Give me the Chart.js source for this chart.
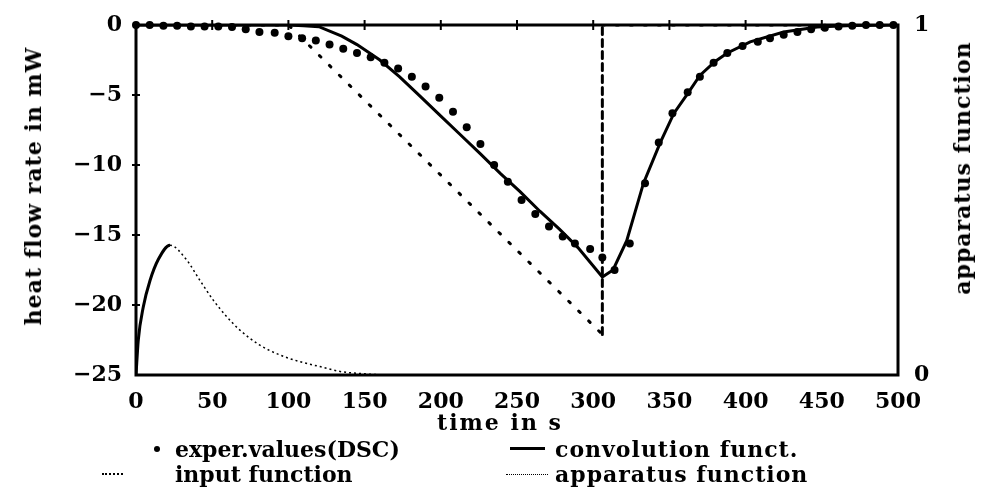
<!DOCTYPE html>
<html>
<head>
<meta charset="utf-8">
<script src="https://cdn.jsdelivr.net/npm/chart.js@4.4.1/dist/chart.umd.min.js"></script>
<style>
  html, body { margin: 0; padding: 0; background: #fff; }
  #wrap { position: relative; width: 987px; height: 498px; overflow: hidden; }
  #chart { position: absolute; left: 0; top: 0; }
  .txt { position: absolute; font-family: "DejaVu Serif", serif; font-weight: bold; font-size: 22px; color: #000; white-space: nowrap; line-height: 1; }
  .vtitle { transform: translate(-50%, -50%) rotate(-90deg); }
  .mk { position: absolute; }
</style>
</head>
<body>
<div id="wrap">
  <canvas id="chart" width="987" height="498"></canvas>
  <div class="txt vtitle" style="left:33px; top:186px; letter-spacing:1px;">heat flow rate in mW</div>
  <div class="txt vtitle" style="left:962px; top:168px; letter-spacing:1px;">apparatus function</div>
  <div class="txt" style="left:500px; top:422px; transform:translate(-50%,-50%); letter-spacing:2px;">time in s</div>

  <div class="mk" style="left:154px; top:446px; width:6px; height:6px; border-radius:50%; background:#000;"></div>
  <div class="txt" style="left:175px; top:449px; transform:translateY(-50%);">exper.values(DSC)</div>
  <div class="mk" style="left:510px; top:447px; width:35px; height:0; border-top:3px solid #000;"></div>
  <div class="txt" style="left:555px; top:449px; transform:translateY(-50%); letter-spacing:1px;">convolution funct.</div>

  <div class="mk" style="left:102px; top:473px; width:21px; height:0; border-top:2px dotted #000;"></div>
  <div class="txt" style="left:175px; top:474px; transform:translateY(-50%);">input function</div>
  <div class="mk" style="left:506px; top:474px; width:42px; height:0; border-top:1px dotted #000;"></div>
  <div class="txt" style="left:555px; top:474px; transform:translateY(-50%); letter-spacing:1px;">apparatus function</div>
</div>
<script>
// experimental DSC values (heat flow rate, mW)
const expTimes = [0, 9, 18, 27, 36, 45, 54, 63, 72, 81, 91, 100, 109, 118, 127, 136, 145, 154, 163, 172,
  181, 190, 199, 208, 217, 226, 235, 244, 253, 262, 271, 280, 288, 298, 306, 314, 324, 334, 343, 352,
  362, 370, 379, 388, 398, 408, 416, 425, 434, 443, 452, 461, 470, 479, 488, 497];
const expValues = [0, 0, -0.05, -0.05, -0.1, -0.1, -0.1, -0.15, -0.3, -0.5, -0.55, -0.8, -0.95, -1.1, -1.4, -1.7, -2.0, -2.3, -2.7, -3.1,
  -3.7, -4.4, -5.2, -6.2, -7.3, -8.5, -10.0, -11.2, -12.5, -13.5, -14.4, -15.1, -15.6, -16.0, -16.6, -17.5, -15.6, -11.3, -8.4, -6.3,
  -4.8, -3.7, -2.7, -2.0, -1.5, -1.2, -0.95, -0.7, -0.5, -0.3, -0.2, -0.1, -0.05, 0, 0, 0];

// convolution function
const convTimes = [0, 100, 110, 120, 135, 145, 160, 173, 186, 199, 212, 226, 239, 252, 265, 278, 290, 306,
  313, 322, 333, 344, 353, 362, 370, 380, 388, 403, 425, 447, 470, 500];
const convValues = [0, 0, -0.05, -0.12, -0.8, -1.4, -2.5, -3.7, -5.05, -6.4, -7.75, -9.2, -10.6, -11.9, -13.3, -14.6, -15.9, -18.0,
  -17.5, -15.4, -11.3, -8.4, -6.3, -4.9, -3.6, -2.6, -2.0, -1.2, -0.5, -0.15, -0.03, 0];

// input function
const inputTimes = [0, 100, 306, 306, 500];
const inputValues = [0, 0, -22.1, 0, 0];

// apparatus function (right axis, 0..1)
const appTimes = [0, 1.5, 4.8, 9.2, 14.6, 22.3, 33, 42, 50.7, 59.5, 68, 81, 94.5, 107.6, 120.7, 134, 151, 165];
const appValues = [0, 0.10, 0.195, 0.27, 0.33, 0.371, 0.33, 0.27, 0.214, 0.167, 0.129, 0.086, 0.057, 0.038, 0.024, 0.010, 0.003, 0];

const xTicks = [0, 50, 100, 150, 200, 250, 300, 350, 400, 450, 500];
const yTicks = [0, -5, -10, -15, -20, -25];

const pts = (xs, ys) => xs.map((x, i) => ({ x, y: ys[i] }));
const FONT = { family: "'DejaVu Serif', serif", weight: 'bold', size: 22 };

// frame and small tick marks crossing the top and left edges
const framePlugin = {
  id: 'frame',
  afterDatasetsDraw(chart) {
    const { ctx, chartArea: a, scales } = chart;
    ctx.save();
    ctx.strokeStyle = '#000';
    ctx.lineWidth = 3;
    ctx.strokeRect(a.left, a.top, a.right - a.left, a.bottom - a.top);
    ctx.lineWidth = 2;
    xTicks.slice(1, -1).forEach(v => {
      const px = scales.x.getPixelForValue(v);
      ctx.beginPath();
      ctx.moveTo(px, a.top - 5);
      ctx.lineTo(px, a.top + 5);
      ctx.stroke();
    });
    yTicks.slice(1, -1).forEach(v => {
      const py = scales.y.getPixelForValue(v);
      ctx.beginPath();
      ctx.moveTo(a.left - 4, py);
      ctx.lineTo(a.left + 4, py);
      ctx.stroke();
    });
    ctx.restore();
  }
};

new Chart(document.getElementById('chart').getContext('2d'), {
  type: 'line',
  data: {
    datasets: [
      {
        label: 'exper.values(DSC)',
        data: pts(expTimes, expValues),
        showLine: false,
        pointRadius: 4,
        pointBackgroundColor: '#000',
        pointBorderWidth: 0,
        clip: false
      },
      {
        label: 'convolution funct.',
        data: pts(convTimes, convValues),
        borderColor: '#000',
        borderWidth: 3,
        pointRadius: 0,
        tension: 0
      },
      {
        label: 'input function',
        data: pts(inputTimes, inputValues),
        borderColor: '#000',
        borderWidth: 3,
        borderDash: [2, 12],
        borderCapStyle: 'round',
        pointRadius: 0,
        tension: 0,
        segment: {
          borderDash: c => c.p0.parsed.x === c.p1.parsed.x ? [7, 5] : undefined
        }
      },
      {
        label: 'apparatus function',
        data: pts(appTimes, appValues),
        yAxisID: 'y2',
        borderColor: '#000',
        borderWidth: 1.5,
        borderDash: [2, 3],
        pointRadius: 0,
        cubicInterpolationMode: 'monotone',
        segment: {
          borderDash: c => c.p1.parsed.y > c.p0.parsed.y ? [] : undefined,
          borderWidth: c => c.p1.parsed.y > c.p0.parsed.y ? 3 : undefined
        }
      }
    ]
  },
  options: {
    responsive: false,
    devicePixelRatio: 1,
    animation: false,
    layout: { padding: { top: 25, left: 0, right: 0, bottom: 0 } },
    plugins: { legend: { display: false }, tooltip: { enabled: false } },
    scales: {
      x: {
        type: 'linear',
        min: 0,
        max: 500,
        afterFit: s => { s.height = 123; },
        afterBuildTicks: s => { s.ticks = xTicks.map(v => ({ value: v })); },
        ticks: { font: FONT, color: '#000', padding: 6, maxRotation: 0 },
        grid: { display: false },
        border: { display: false }
      },
      y: {
        min: -25,
        max: 0,
        afterFit: s => { s.width = 136; },
        afterBuildTicks: s => { s.ticks = yTicks.map(v => ({ value: v })); },
        ticks: {
          font: FONT,
          color: '#000',
          padding: 6,
          callback: v => String(v).replace('-', '\u2212')
        },
        grid: { display: false },
        border: { display: false }
      },
      y2: {
        position: 'right',
        min: 0,
        max: 1,
        afterFit: s => { s.width = 89; },
        afterBuildTicks: s => { s.ticks = [{ value: 0 }, { value: 1 }]; },
        ticks: { font: FONT, color: '#000', padding: 8 },
        grid: { display: false },
        border: { display: false }
      }
    }
  },
  plugins: [framePlugin]
});
</script>
</body>
</html>
